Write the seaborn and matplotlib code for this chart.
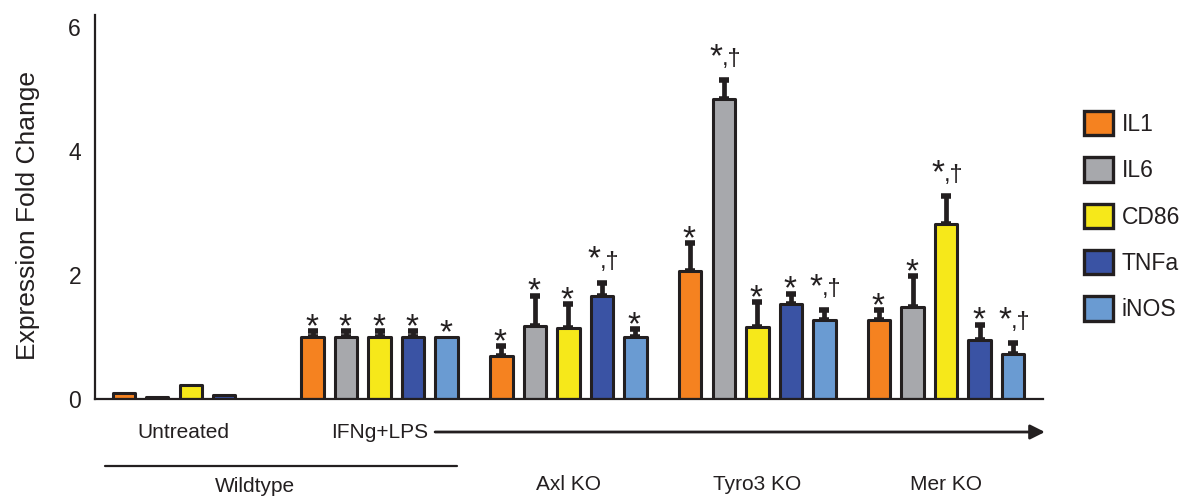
import numpy as np
import pandas as pd
import matplotlib
matplotlib.use("Agg")
import matplotlib.pyplot as plt
import matplotlib.transforms as mtransforms
from matplotlib.patches import Patch
import seaborn as sns

# ---------------- data ----------------
groups = ["Untreated", "IFNg+LPS", "Axl KO", "Tyro3 KO", "Mer KO"]
markers = ["IL1", "IL6", "CD86", "TNFa", "iNOS"]
colors = ["#F58220", "#A7A8AC", "#F6E81A", "#3A53A4", "#6A9BD2"]

il1 = [0.09, 1.00, 0.69, 2.06, 1.27]
il6 = [0.03, 1.00, 1.18, 4.85, 1.48]
cd86 = [0.22, 1.00, 1.14, 1.16, 2.83]
tnfa = [0.06, 1.00, 1.67, 1.53, 0.96]
inos = [np.nan, 1.00, 1.00, 1.27, 0.73]

il1_err = [0.0, 0.09, 0.16, 0.46, 0.16]
il6_err = [0.0, 0.09, 0.49, 0.30, 0.50]
cd86_err = [0.0, 0.09, 0.39, 0.40, 0.44]
tnfa_err = [0.0, 0.09, 0.21, 0.17, 0.24]
inos_err = [0.0, 0.0, 0.13, 0.17, 0.17]

il1_sig = ["", "*", "*", "*", "*"]
il6_sig = ["", "*", "*", "*,†", "*"]
cd86_sig = ["", "*", "*", "*", "*,†"]
tnfa_sig = ["", "*", "*,†", "*", "*"]
inos_sig = ["", "*", "*", "*,†", "*,†"]

values = {"IL1": il1, "IL6": il6, "CD86": cd86, "TNFa": tnfa, "iNOS": inos}
errors = {"IL1": il1_err, "IL6": il6_err, "CD86": cd86_err, "TNFa": tnfa_err, "iNOS": inos_err}
sigs = {"IL1": il1_sig, "IL6": il6_sig, "CD86": cd86_sig, "TNFa": tnfa_sig, "iNOS": inos_sig}

rows = []
for m in markers:
    for g, v in zip(groups, values[m]):
        if not np.isnan(v):
            rows.append({"group": g, "marker": m, "value": v})
df = pd.DataFrame(rows)

# ---------------- style ----------------
EDGE = "#231F20"
sns.set_style("white")
plt.rcParams["font.family"] = ["Liberation Sans", "DejaVu Sans"]
plt.rcParams["text.color"] = EDGE

DPI = 100
W, H = 1185, 499
fig = plt.figure(figsize=(W / DPI, H / DPI), dpi=DPI)
ax = fig.add_axes([95 / W, (H - 399) / H, (1043 - 95) / W, 384 / H])

BAR_W = 0.887
sns.barplot(data=df, x="group", y="value", hue="marker", order=groups,
            hue_order=markers, palette=colors, width=BAR_W, gap=0.33,
            edgecolor=EDGE, linewidth=2.2, errorbar=None, legend=False,
            saturation=1, ax=ax)

ax.set_xlim(-0.507, 4.513)
ax.set_ylim(0, 6.2)
ax.set_yticks([0, 2, 4, 6])
ax.set_yticklabels(["0", "2", "4", "6"], fontsize=16.5)
ax.tick_params(axis="y", length=0, pad=10, colors=EDGE)
ax.set_xticks([])
ax.set_xlabel("")
ax.set_ylabel("Expression Fold Change", fontsize=19, color=EDGE)
ax.yaxis.set_label_coords(-0.058, 0.479)
for s in ["top", "right"]:
    ax.spines[s].set_visible(False)
for s in ["left", "bottom"]:
    ax.spines[s].set_color(EDGE)
    ax.spines[s].set_linewidth(1.6)

# ---------------- error bars & significance ----------------
slot = BAR_W / len(markers)
px = 0.72  # points per pixel
for p in ax.patches:
    p.set_joinstyle("round")
    h = p.get_height()
    if not np.isfinite(h) or h <= 0:
        continue
    xc = p.get_x() + p.get_width() / 2
    gi = int(round(xc))
    hi = int(round((xc - gi) / slot + 2))
    m = markers[hi]
    err = errors[m][gi]
    top = h + err
    if err > 0:
        ax.errorbar(xc, h, yerr=[[0], [err]], fmt="none", ecolor=EDGE,
                    elinewidth=3.4, capsize=3.8, capthick=4.0, zorder=0.9)
    sig = sigs[m][gi]
    if sig == "*":
        ax.annotate("*", xy=(xc, top), xytext=(-1 * px, -5 * px),
                    textcoords="offset points", ha="center", va="baseline",
                    fontsize=24, color=EDGE)
    elif sig:
        ax.annotate("*", xy=(xc, top), xytext=(-8 * px, 14 * px),
                    textcoords="offset points", ha="center", va="baseline",
                    fontsize=24, color=EDGE)
        ax.annotate(",†", xy=(xc, top), xytext=(-2 * px, 15 * px),
                    textcoords="offset points", ha="left", va="baseline",
                    fontsize=17, color=EDGE)

# ---------------- group labels below axis ----------------
blend = mtransforms.blended_transform_factory(ax.transData, ax.transAxes)

def yf(pix):
    return (399 - pix) / 384

lab_fs = 15
ax.text(-0.04, yf(432), "Untreated", transform=blend, ha="center", va="center", fontsize=lab_fs)
ax.text(1.0, yf(432), "IFNg+LPS", transform=blend, ha="center", va="center", fontsize=lab_fs)
ax.annotate("", xy=(4.523, yf(432)), xytext=(1.294, yf(432)),
            xycoords=blend, textcoords=blend, annotation_clip=False,
            arrowprops=dict(arrowstyle="-|>", lw=2.0, color=EDGE,
                            mutation_scale=22, shrinkA=0, shrinkB=0))
ax.plot([-0.454, 1.41], [yf(466), yf(466)], transform=blend, clip_on=False,
        color=EDGE, lw=1.6)
ax.text(0.34, yf(487), "Wildtype", transform=blend, ha="center", va="center", fontsize=lab_fs)
for gi in (2, 3, 4):
    ax.text(gi, yf(484), groups[gi], transform=blend, ha="center", va="center", fontsize=lab_fs)

# ---------------- legend ----------------
handles = [Patch(facecolor=c, edgecolor=EDGE, linewidth=2.4, joinstyle="round") for c in colors]
leg = ax.legend(handles, markers, loc="upper left",
                bbox_to_anchor=(1084 / W, 1 - 111 / H), bbox_transform=fig.transFigure,
                frameon=False, fontsize=16.5, handlelength=1.25, handleheight=1.25,
                labelspacing=0.94, handletextpad=0.4, borderaxespad=0, borderpad=0)

fig.savefig("out.png", dpi=DPI)
